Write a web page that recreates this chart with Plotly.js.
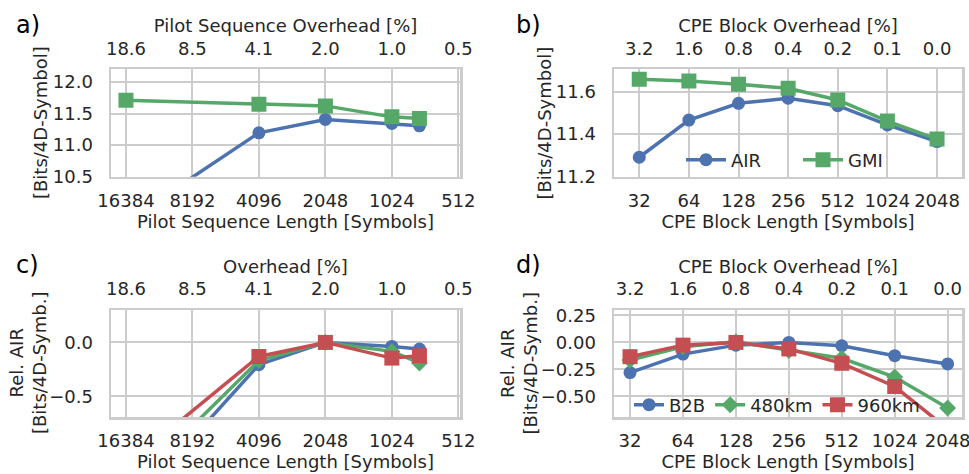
<!DOCTYPE html>
<html><head><meta charset="utf-8">
<script src="https://cdn.plot.ly/plotly-3.0.1.min.js"></script>
<style>html,body{margin:0;padding:0;background:#fff}</style>
</head><body>
<div id="chart" style="width:969px;height:474px"></div>
<script>
// ---- data ----
const pilotLengths = [16384, 4096, 2048, 1024, 768];
const pilotTicks = [16384, 8192, 4096, 2048, 1024, 512];
const pilotTickLabels = ['16384', '8192', '4096', '2048', '1024', '512'];
const pilotOverheadLabels = ['18.6', '8.5', '4.1', '2.0', '1.0', '0.5'];
const pilotAIR = [9.79, 11.195, 11.406, 11.343, 11.305];
const pilotGMI = [11.711, 11.648, 11.621, 11.447, 11.42];
const pilotRelB2B = [-1.566, -0.206, 0.0, -0.037, -0.061];
const pilotRel480 = [-1.38, -0.167, 0.0, -0.083, -0.19];
const pilotRel960 = [-1.137, -0.13, 0.0, -0.145, -0.123];

const cpeLengths = [32, 64, 128, 256, 512, 1024, 2048];
const cpeTickLabels = ['32', '64', '128', '256', '512', '1024', '2048'];
const cpeOverheadLabels = ['3.2', '1.6', '0.8', '0.4', '0.2', '0.1', '0.0'];
const cpeAIR = [11.290, 11.466, 11.545, 11.569, 11.534, 11.443, 11.364];
const cpeGMI = [11.659, 11.651, 11.635, 11.616, 11.561, 11.461, 11.376];
const cpeRelB2B = [-0.279, -0.108, -0.025, 0.0, -0.031, -0.123, -0.199];
const cpeRel480 = [-0.163, -0.04, 0.005, -0.075, -0.147, -0.32, -0.607];
const cpeRel960 = [-0.132, -0.025, 0.0, -0.06, -0.193, -0.408, -0.80];

// ---- style ----
const BLUE = '#4c72b0', GREEN = '#55a868', RED = '#c44e52';
const TXT = '#262626', GRID = '#cccccc';
const FONT = 'DejaVu Sans';
const FS = 18;
const W = 969, H = 474;
const LW = 3.5;

function tr(x, y, color, symbol, size, name, xa, ya, legend, showlegend) {
  return {
    x: x, y: y, type: 'scatter', mode: 'lines+markers', name: name,
    xaxis: xa, yaxis: ya, legend: legend, showlegend: showlegend,
    line: {color: color, width: LW},
    marker: {color: color, symbol: symbol, size: size, line: {width: 0}},
    cliponaxis: true
  };
}
// invisible carrier so that the top (overhead) axes get drawn
function carrier(x, xa, ya) {
  return {x: x, y: x.map(() => null), type: 'scatter', mode: 'markers', xaxis: xa, yaxis: ya,
    showlegend: false, hoverinfo: 'skip', marker: {opacity: 0}};
}

const traces = [
  tr(pilotLengths, pilotAIR, BLUE, 'circle', 13, 'AIR', 'x', 'y', 'legend', false),
  tr(pilotLengths, pilotGMI, GREEN, 'square', 15, 'GMI', 'x', 'y', 'legend', false),
  tr(cpeLengths, cpeAIR, BLUE, 'circle', 13, 'AIR', 'x3', 'y2', 'legend', true),
  tr(cpeLengths, cpeGMI, GREEN, 'square', 15, 'GMI', 'x3', 'y2', 'legend', true),
  tr(pilotLengths, pilotRelB2B, BLUE, 'circle', 13, 'B2B', 'x5', 'y3', 'legend2', false),
  tr(pilotLengths, pilotRel480, GREEN, 'diamond', 13, '480km', 'x5', 'y3', 'legend2', false),
  tr(pilotLengths, pilotRel960, RED, 'square', 15, '960km', 'x5', 'y3', 'legend2', false),
  tr(cpeLengths, cpeRelB2B, BLUE, 'circle', 13, 'B2B', 'x7', 'y4', 'legend2', true),
  tr(cpeLengths, cpeRel480, GREEN, 'diamond', 13, '480km', 'x7', 'y4', 'legend2', true),
  tr(cpeLengths, cpeRel960, RED, 'square', 15, '960km', 'x7', 'y4', 'legend2', true),
  carrier(pilotTicks, 'x2', 'y'),
  carrier(cpeLengths, 'x4', 'y2'),
  carrier(pilotTicks, 'x6', 'y3'),
  carrier(cpeLengths, 'x8', 'y4')
];

const tf = {family: FONT, size: FS, color: TXT};
function px(a, b) { return [a / W, b / W]; }
function py(top, bottom) { return [1 - bottom / H, 1 - top / H]; }

function bottomX(dom, range, vals, labels, title, anchor) {
  return {
    domain: dom, anchor: anchor, type: 'log', range: range,
    tickmode: 'array', tickvals: vals, ticktext: labels,
    showline: true, linecolor: GRID, linewidth: 2.5, mirror: true,
    showgrid: true, gridcolor: GRID, gridwidth: 2, zeroline: false,
    ticks: '', ticklabelstandoff: 6, ticklabeloverflow: 'allow', tickfont: tf,
    title: {text: title, font: tf, standoff: 3}
  };
}
function topX(overlay, anchor, range, vals, labels, title) {
  return {
    overlaying: overlay, anchor: anchor, side: 'top', type: 'log', range: range,
    tickmode: 'array', tickvals: vals, ticktext: labels,
    showline: false, showgrid: false, zeroline: false,
    ticks: '', ticklabelstandoff: 10, ticklabeloverflow: 'allow', tickfont: tf,
    title: {text: title, font: tf, standoff: 0}
  };
}
function leftY(dom, anchor, range, dtick, fmt) {
  return {
    domain: dom, anchor: anchor, range: range,
    tick0: 0, dtick: dtick, tickformat: fmt,
    showline: true, linecolor: GRID, linewidth: 2.5, mirror: true,
    showgrid: true, gridcolor: GRID, gridwidth: 2, zeroline: false,
    ticks: '', ticklabelstandoff: 12, tickfont: tf
  };
}

const L2 = Math.log10(2);
const rangeA = [14.225 * L2, 8.975 * L2];
const rangeB = [4.491 * L2, 11.503 * L2];
const rangeD = [4.697 * L2, 11.271 * L2];

const domAX = px(111, 460), domBX = px(614, 962);
const domTopY = py(69.3, 176.7), domBotY = py(310, 417);

const panelLabels = [
  {text: 'a)', x: 14 / W, y: 1 - 25 / H},
  {text: 'b)', x: 514 / W, y: 1 - 25 / H},
  {text: 'c)', x: 14 / W, y: 1 - 265 / H},
  {text: 'd)', x: 514 / W, y: 1 - 265 / H}
].map(a => Object.assign(a, {xref: 'paper', yref: 'paper', xanchor: 'left', yanchor: 'middle',
  showarrow: false, font: {family: FONT, size: 24, color: '#000000'}}));

const yTitles = [
  {text: '[Bits/4D-Symbol]', x: 40 / W, y: 1 - 123 / H},
  {text: '[Bits/4D-Symbol]', x: 543.5 / W, y: 1 - 123 / H},
  {text: 'Rel. AIR<br>[Bits/4D-Symb.]', x: 27.5 / W, y: 1 - 363.5 / H},
  {text: 'Rel. AIR<br>[Bits/4D-Symb.]', x: 518 / W, y: 1 - 363.5 / H}
].map(a => Object.assign(a, {xref: 'paper', yref: 'paper', xanchor: 'center', yanchor: 'middle',
  textangle: -90, showarrow: false, font: tf}));

const layout = {
  width: W, height: H,
  margin: {l: 0, r: 0, t: 0, b: 0},
  paper_bgcolor: '#ffffff', plot_bgcolor: '#ffffff',
  font: {family: FONT, size: FS, color: TXT},
  xaxis: bottomX(domAX, rangeA, pilotTicks, pilotTickLabels, 'Pilot Sequence Length [Symbols]', 'y'),
  xaxis2: topX('x', 'y', rangeA, pilotTicks, pilotOverheadLabels, 'Pilot Sequence Overhead [%]'),
  yaxis: leftY(domTopY, 'x', [10.5, 12.2], 0.5, '.1f'),
  xaxis3: bottomX(domBX, rangeB, cpeLengths, cpeTickLabels, 'CPE Block Length [Symbols]', 'y2'),
  xaxis4: topX('x3', 'y2', rangeB, cpeLengths, cpeOverheadLabels, 'CPE Block Overhead [%]'),
  yaxis2: leftY(domTopY, 'x3', [11.198, 11.706], 0.2, '.1f'),
  xaxis5: bottomX(domAX, rangeA, pilotTicks, pilotTickLabels, 'Pilot Sequence Length [Symbols]', 'y3'),
  xaxis6: topX('x5', 'y3', rangeA, pilotTicks, pilotOverheadLabels, 'Overhead [%]'),
  yaxis3: leftY(domBotY, 'x5', [-0.69, 0.30], 0.5, '.1f'),
  xaxis7: bottomX(domBX, rangeD, cpeLengths, cpeTickLabels, 'CPE Block Length [Symbols]', 'y4'),
  xaxis8: topX('x7', 'y4', rangeD, cpeLengths, cpeOverheadLabels, 'CPE Block Overhead [%]'),
  yaxis4: leftY(domBotY, 'x7', [-0.69, 0.30], 0.25, '.2f'),
  legend: {
    orientation: 'h', x: 681 / W, xanchor: 'left', y: 1 - 160 / H, yanchor: 'middle',
    bgcolor: 'rgba(0,0,0,0)', borderwidth: 0, font: tf, itemwidth: 40,
    entrywidth: 62, entrywidthmode: 'pixels'
  },
  legend2: {
    orientation: 'h', x: 629 / W, xanchor: 'left', y: 1 - 405 / H, yanchor: 'middle',
    bgcolor: 'rgba(0,0,0,0)', borderwidth: 0, font: tf, itemwidth: 30
  },
  annotations: panelLabels.concat(yTitles)
};

Plotly.newPlot('chart', traces, layout, {displayModeBar: false, staticPlot: true});
</script>
</body></html>
